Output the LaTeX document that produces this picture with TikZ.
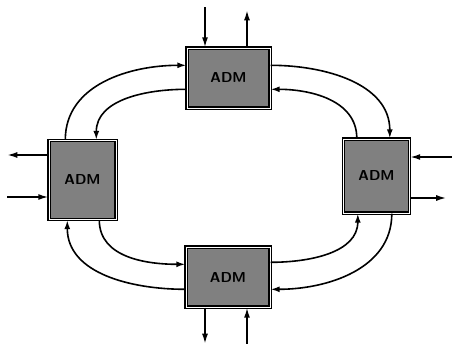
\documentclass[tikz,border=0pt]{standalone}
\usepackage{tikz}
\usetikzlibrary{arrows.meta, positioning}

\begin{document}
\begin{tikzpicture}[x=1pt, y=1pt,
		adm/.style={draw, line width=1.4pt, double=white, double distance=0.8pt, fill=black!50, inner sep=0pt, font=\sffamily\bfseries\Large},
		ring/.style={line width=1.6pt, -{Latex[length=9pt, width=6pt]}},
		trib/.style={line width=1.6pt, -{Latex[length=10pt, width=6pt]}}]
			\useasboundingbox (0, 0) rectangle (452, 349);
			
			% Multiplexers
			\node[adm, minimum width=83pt, minimum height=60pt] (admN) at (228.5, 271) {ADM};
			\node[adm, minimum width=67pt, minimum height=79pt] (admW) at (82.5, 169) {ADM};
			\node[adm, minimum width=66pt, minimum height=74pt] (admE) at (376.5, 173) {ADM};
			\node[adm, minimum width=84pt, minimum height=60pt] (admS) at (228, 72) {ADM};
			
			% Outer ring
			\draw[ring] ([xshift=17pt]admW.north west) to[out=90, in=180] ([yshift=-18pt]admN.north west);
			\draw[ring] ([yshift=-18pt]admN.north east) to[out=0, in=90] ([xshift=47pt]admE.north west);
			\draw[ring] ([xshift=49pt]admE.south west) to[out=-90, in=0] ([yshift=-43pt]admS.north east);
			\draw[ring] ([yshift=-43pt]admS.north west) to[out=180, in=-90] ([xshift=19pt]admW.south west);
			
			% Inner ring
			\draw[ring] ([yshift=-42pt]admN.north west) to[out=180, in=90] ([xshift=48pt]admW.north west);
			\draw[ring] ([xshift=51pt]admW.south west) to[out=-90, in=180] ([yshift=-18pt]admS.north west);
			\draw[ring] ([yshift=-16pt]admS.north east) to[out=0, in=-90] ([xshift=15pt]admE.south west);
			\draw[ring] ([xshift=14pt]admE.north west) to[out=90, in=0] ([yshift=-42pt]admN.north east);
			
			% Tributaries
			\coordinate (nIn) at ([xshift=-23.5pt, yshift=40pt]admN.north);
			\coordinate (nOut) at ([xshift=18.5pt, yshift=37pt]admN.north);
			\coordinate (sOut) at ([xshift=-23pt, yshift=-36pt]admS.south);
			\coordinate (sIn) at ([xshift=19pt, yshift=-36pt]admS.south);
			\coordinate (wOut) at ([xshift=-41pt, yshift=25pt]admW.west);
			\coordinate (wIn) at ([xshift=-41pt, yshift=-17pt]admW.west);
			\coordinate (eIn) at ([xshift=43pt, yshift=19pt]admE.east);
			\coordinate (eOut) at ([xshift=36pt, yshift=-22pt]admE.east);
			\draw[trib] (nIn) -- (nIn |- admN.north);
			\draw[trib] (nOut |- admN.north) -- (nOut);
			\draw[trib] (sOut |- admS.south) -- (sOut);
			\draw[trib] (sIn) -- (sIn |- admS.south);
			\draw[trib] (wOut -| admW.west) -- (wOut);
			\draw[trib] (wIn) -- (wIn -| admW.west);
			\draw[trib] (eIn) -- (eIn -| admE.east);
			\draw[trib] (eOut -| admE.east) -- (eOut);
		\end{tikzpicture}
\end{document}
